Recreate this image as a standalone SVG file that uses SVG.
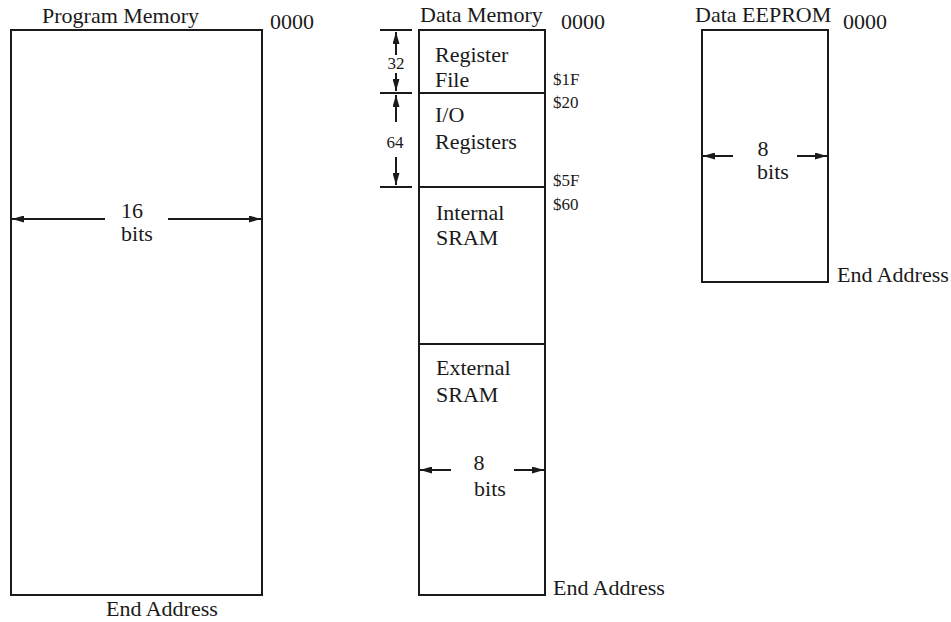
<svg xmlns="http://www.w3.org/2000/svg" width="951" height="622" viewBox="0 0 951 622">
<style>
text{font-family:"Liberation Serif","Times New Roman",serif;fill:#1a1a1a}
.t{font-size:22px}
.s{font-size:17px}
.box{fill:#fff;stroke:#1a1a1a;stroke-width:2}
.ln{stroke:#1a1a1a;stroke-width:2;fill:none}
.ar{stroke:#1a1a1a;stroke-width:2;fill:none;marker-end:url(#ah)}
</style>
<defs>
<marker id="ah" viewBox="0 0 12 7" refX="12" refY="3.5" markerWidth="12" markerHeight="7" markerUnits="userSpaceOnUse" orient="auto">
<path d="M0,0 L12,3.5 L0,7 Z" fill="#1a1a1a"/>
</marker>
</defs>

<g id="program-memory">
<rect class="box" x="11" y="30" width="251" height="565"/>
<text class="t" x="42" y="23">Program Memory</text>
<text class="t" x="270" y="29">0000</text>
<text class="t" x="132" y="218" text-anchor="middle">16</text>
<text class="t" x="137" y="241" text-anchor="middle">bits</text>
<text class="t" x="106" y="616">End Address</text>
</g>

<g id="data-memory">
<rect class="box" x="419" y="30" width="126" height="565"/>
<line class="ln" x1="419" y1="93" x2="545" y2="93"/>
<line class="ln" x1="419" y1="187" x2="545" y2="187"/>
<line class="ln" x1="419" y1="344" x2="545" y2="344"/>
<text class="t" x="420" y="22">Data Memory</text>
<text class="t" x="561" y="29">0000</text>
<text class="t" x="435" y="62">Register</text>
<text class="t" x="435" y="87">File</text>
<text class="t" x="435" y="122">I/O</text>
<text class="t" x="435" y="149">Registers</text>
<text class="t" x="436" y="220">Internal</text>
<text class="t" x="436" y="245">SRAM</text>
<text class="t" x="436" y="375">External</text>
<text class="t" x="436" y="402">SRAM</text>
<text class="t" x="479" y="470" text-anchor="middle">8</text>
<text class="t" x="490" y="496" text-anchor="middle">bits</text>
<text class="s" x="553" y="85">$1F</text>
<text class="s" x="553" y="108">$20</text>
<text class="s" x="553" y="186">$5F</text>
<text class="s" x="553" y="210">$60</text>
<text class="t" x="553" y="595">End Address</text>
</g>

<g id="data-eeprom">
<rect class="box" x="702" y="30" width="126" height="252"/>
<text class="t" x="695" y="22">Data EEPROM</text>
<text class="t" x="843" y="29">0000</text>
<text class="t" x="763" y="156" text-anchor="middle">8</text>
<text class="t" x="773" y="179" text-anchor="middle">bits</text>
<text class="t" x="837" y="282">End Address</text>
</g>

<g id="dimension-labels">
<line class="ln" x1="380" y1="30" x2="412" y2="30"/>
<line class="ln" x1="380" y1="93" x2="412" y2="93"/>
<line class="ln" x1="380" y1="187" x2="412" y2="187"/>
<text class="s" x="396" y="69" text-anchor="middle">32</text>
<text class="s" x="395" y="148" text-anchor="middle">64</text>
</g>

<g id="connectors">
<line class="ar" x1="105" y1="219" x2="12" y2="219"/>
<line class="ar" x1="168" y1="219" x2="261" y2="219"/>
<line class="ar" x1="451" y1="470" x2="420" y2="470"/>
<line class="ar" x1="514" y1="470" x2="544" y2="470"/>
<line class="ar" x1="733" y1="156" x2="703" y2="156"/>
<line class="ar" x1="797" y1="156" x2="827" y2="156"/>
<line class="ar" x1="396" y1="55" x2="396" y2="32"/>
<line class="ar" x1="396" y1="73" x2="396" y2="91"/>
<line class="ar" x1="396" y1="122" x2="396" y2="95"/>
<line class="ar" x1="396" y1="157" x2="396" y2="185"/>
</g>
</svg>
